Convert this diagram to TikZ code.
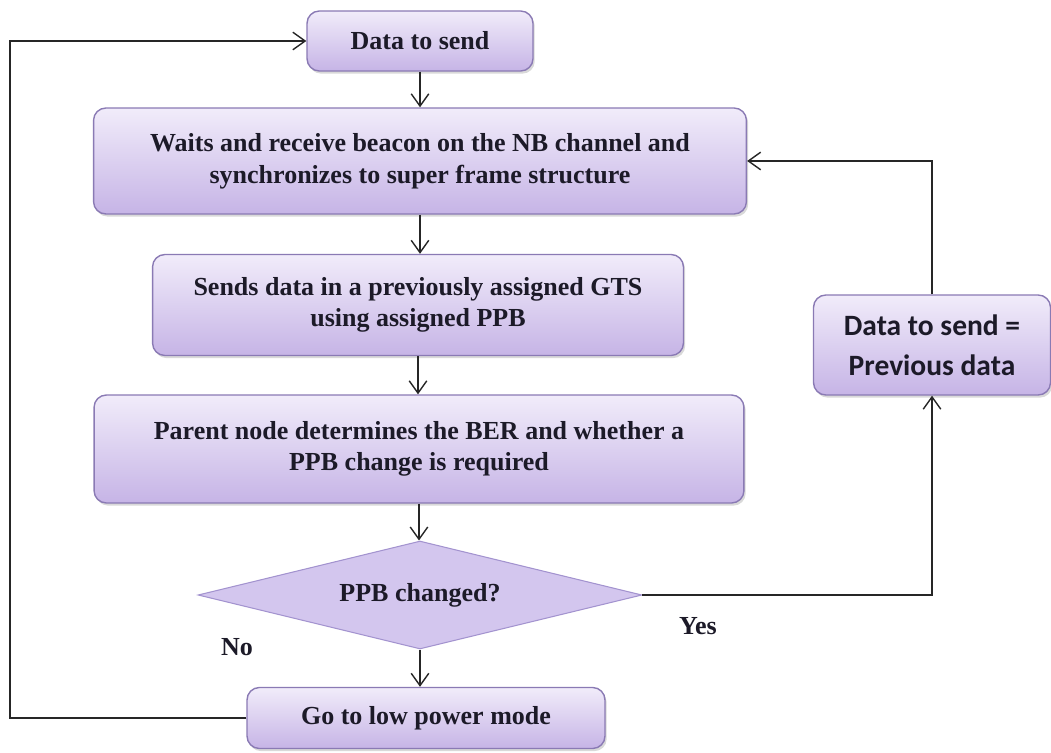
\documentclass[tikz,border=0pt]{standalone}
\usepackage{fontspec}
\setmainfont{Liberation Serif}
\newfontfamily\calibrifont{Carlito}
\usetikzlibrary{shapes.geometric,arrows.meta,shadows}
\definecolor{boxtop}{HTML}{F1ECFA}
\definecolor{boxbot}{HTML}{C6B4E6}
\definecolor{boxline}{HTML}{8A7AB4}
\definecolor{decfill}{HTML}{D3C6EE}
\definecolor{decline}{HTML}{A393CF}
\definecolor{txt}{HTML}{1C1A28}
\tikzset{
  stepbox/.style={draw=boxline,line width=0.8pt,rounded corners=7pt,
    top color=boxtop,bottom color=boxbot,text=txt,align=center,
    font=\fontsize{14.8}{18}\selectfont\bfseries,
    drop shadow={shadow xshift=1pt,shadow yshift=-1.5pt,opacity=0.3}},
  decision/.style={diamond,draw=decline,line width=0.6pt,fill=decfill,
    aspect=4,inner sep=0pt,text=txt,font=\fontsize{14.8}{18}\selectfont\bfseries},
  flow/.style={draw=black!85,line width=0.8pt,-{Straight Barb[length=7pt,width=10pt]}},
  answer/.style={text=txt,font=\fontsize{14.8}{16}\selectfont\bfseries}
}
\begin{document}
\begin{tikzpicture}[x=0.02cm,y=-0.02cm]
  \useasboundingbox (0,0) rectangle (1051,753);
  % main column
  \node[stepbox,minimum width=4.52cm,minimum height=1.2cm] (send) at (420,41)
    {Data to send};
  \node[stepbox,minimum width=13.06cm,minimum height=2.12cm] (beacon) at (420,161)
    {Waits and receive beacon on the NB channel and\\
     synchronizes to super frame structure};
  \node[stepbox,minimum width=10.62cm,minimum height=2.02cm] (gts) at (418,305)
    {Sends data in a previously assigned GTS\\ using assigned PPB};
  \node[stepbox,minimum width=13cm,minimum height=2.16cm] (ber) at (419,449)
    {Parent node determines the BER and whether a\\ PPB change is required};
  \node[decision,minimum width=8.88cm,minimum height=2.16cm] (changed) at (420,595)
    {PPB changed?};
  \node[stepbox,minimum width=7.16cm,minimum height=1.22cm] (lowpower) at (426,718)
    {Go to low power mode};
  % right branch
  \node[stepbox,minimum width=4.74cm,minimum height=2cm,
    font=\calibrifont\fontsize{16.8}{23}\selectfont\bfseries] (prev) at (932,345)
    {Data to send =\\ Previous data};
  \node[answer] (yes) at (698,626) {Yes};
  \node[answer] (no) at (237,647) {No};
  \coordinate (back) at (10,380);

  \foreach \a/\b in {send/beacon,beacon/gts,gts/ber,ber/changed,changed/lowpower}
    \draw[flow] (\a.south) -- (\a.south |- \b.north);
  \draw[flow] (changed.east) -| (prev.south);
  \draw[flow] (prev.north) |- (beacon.east);
  \draw[flow] (lowpower.west) -| (back) |- (send.west);
\end{tikzpicture}
\end{document}
